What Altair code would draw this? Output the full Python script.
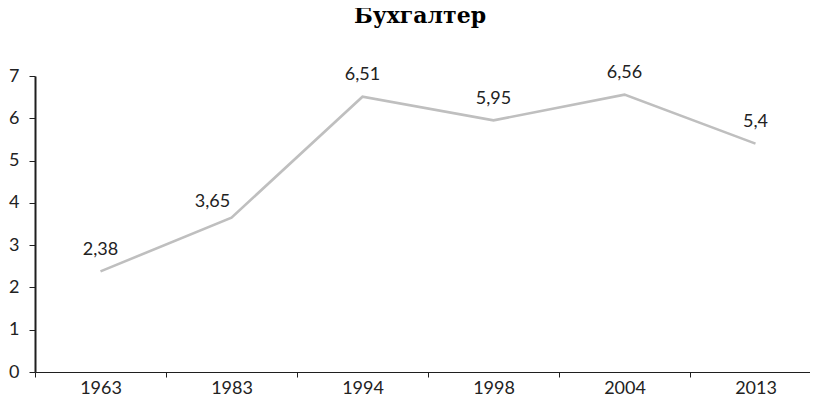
import altair as alt
import pandas as pd

years = ["1963", "1983", "1994", "1998", "2004", "2013"]
values = [2.38, 3.65, 6.51, 5.95, 6.56, 5.4]
y_ticks = [0, 1, 2, 3, 4, 5, 6, 7]
title_text = "Бухгалтер"

df = pd.DataFrame({"year": years, "value": values})

FONT = "Lato"
AXIS_COLOR = "#1f1f1f"

x_enc = alt.X(
    "year:N",
    sort=years,
    bandPosition=0.5,
    scale=alt.Scale(type="band", paddingInner=0, paddingOuter=0, range=[0, 786]),
    axis=alt.Axis(
        title=None,
        labelAngle=0,
        tickBand="extent",
        tickSize=5,
        labelPadding=2,
        labelFont=FONT,
        labelFontSize=18,
        labelColor="#222222",
        domainColor=AXIS_COLOR,
        tickColor=AXIS_COLOR,
        domainWidth=1.2,
        grid=False,
    ),
)

y_enc = alt.Y(
    "value:Q",
    scale=alt.Scale(domain=[0, 7], nice=False),
    axis=alt.Axis(
        title=None,
        values=y_ticks,
        tickSize=6,
        labelPadding=10,
        labelFont=FONT,
        labelFontSize=18,
        labelColor="#222222",
        domainColor=AXIS_COLOR,
        tickColor=AXIS_COLOR,
        domainWidth=2,
        grid=False,
    ),
)

base = alt.Chart(df).encode(x=x_enc, y=y_enc)

line = base.mark_line(color="#bfbfbf", strokeWidth=2.6)

labels_main = (
    base.transform_filter("datum.year != '1983'")
    .transform_calculate(label="replace(toString(datum.value), '.', ',')")
    .mark_text(font=FONT, fontSize=18, color="#222222", baseline="middle", dy=-21.5)
    .encode(text="label:N")
)

labels_side = (
    base.transform_filter("datum.year == '1983'")
    .transform_calculate(label="replace(toString(datum.value), '.', ',')")
    .mark_text(font=FONT, fontSize=18, color="#222222", baseline="middle", dx=-19, dy=-15.5)
    .encode(text="label:N")
)

chart = (
    alt.layer(line, labels_main, labels_side)
    .properties(
        width=775,
        height=296,
        background="white",
        title=alt.Title(
            title_text,
            font="DejaVu Serif",
            fontSize=22,
            fontWeight="bold",
            color="black",
            anchor="middle",
            frame="group",
            baseline="alphabetic",
            offset=19,
            dx=-2.5,
        ),
        autosize=alt.AutoSizeParams(type="none"),
        padding={"left": 27, "top": 68, "right": 0, "bottom": 25},
    )
    .configure_view(stroke="transparent", strokeWidth=0)
)

chart.save("out.html", embed_options={"renderer": "svg", "actions": False})
